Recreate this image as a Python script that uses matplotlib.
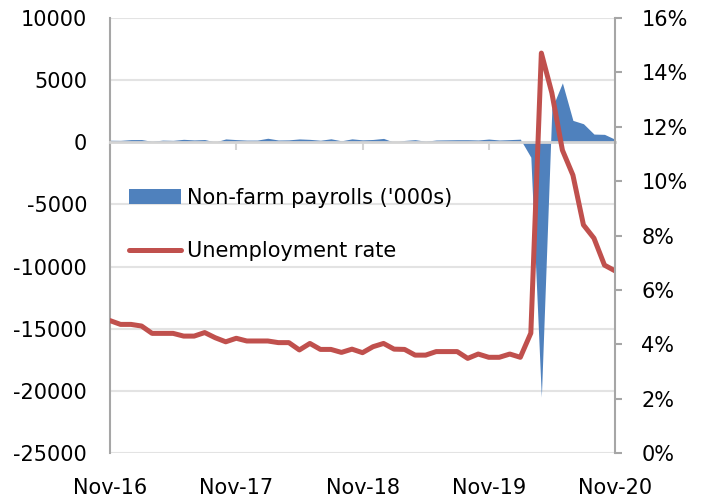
import numpy as np
import matplotlib.pyplot as plt
from matplotlib.ticker import FuncFormatter

# monthly, Nov-16 .. Nov-20
months = ["Nov-16", "Dec-16", "Jan-17", "Feb-17", "Mar-17", "Apr-17", "May-17",
          "Jun-17", "Jul-17", "Aug-17", "Sep-17", "Oct-17", "Nov-17", "Dec-17",
          "Jan-18", "Feb-18", "Mar-18", "Apr-18", "May-18", "Jun-18", "Jul-18",
          "Aug-18", "Sep-18", "Oct-18", "Nov-18", "Dec-18", "Jan-19", "Feb-19",
          "Mar-19", "Apr-19", "May-19", "Jun-19", "Jul-19", "Aug-19", "Sep-19",
          "Oct-19", "Nov-19", "Dec-19", "Jan-20", "Feb-20", "Mar-20", "Apr-20",
          "May-20", "Jun-20", "Jul-20", "Aug-20", "Sep-20", "Oct-20", "Nov-20"]

# change in non-farm payrolls, '000s
payrolls = [164, 155, 216, 219, 73, 175, 155, 239, 190, 221, 18, 271, 216, 175,
            176, 324, 182, 196, 270, 235, 164, 282, 119, 277, 196, 227, 312, 1,
            147, 210, 85, 182, 194, 207, 208, 185, 261, 184, 214, 251, -1200,
            -20500, 2725, 4781, 1761, 1493, 661, 638, 245]

# unemployment rate, %
unemployment = [4.87, 4.73, 4.73, 4.67, 4.40, 4.40, 4.40, 4.30, 4.30, 4.43,
                4.24, 4.09, 4.22, 4.12, 4.12, 4.12, 4.06, 4.06, 3.79, 4.03,
                3.81, 3.81, 3.70, 3.82, 3.69, 3.91, 4.03, 3.82, 3.81, 3.60,
                3.60, 3.73, 3.73, 3.73, 3.48, 3.64, 3.52, 3.52, 3.64, 3.52,
                4.41, 14.71, 13.24, 11.14, 10.22, 8.39, 7.90, 6.91, 6.70]

tick_labels = ["Nov-16", "Nov-17", "Nov-18", "Nov-19", "Nov-20"]

blue = "#4F81BD"
red = "#C0504D"
grey = "#a6a6a6"

plt.rcParams['font.family'] = ['DejaVu Sans']
plt.rcParams['font.size'] = 15
plt.rcParams['axes.unicode_minus'] = False

fig = plt.figure(figsize=(7.04, 5), dpi=100)
ax = fig.add_axes([110/704, 47/500, 505/704, 435/500])

x = np.arange(len(months))
ax.fill_between(x, payrolls, 0, color=blue, lw=0, label="Non-farm payrolls ('000s)")
ax.set_xlim(0, len(months) - 1)
ax.set_ylim(-25000, 10000)
ax.set_yticks(np.arange(-25000, 10001, 5000))
ax.yaxis.grid(True, color="#e3e3e3", lw=1.5)
ax.set_axisbelow(True)
ax.tick_params(axis='y', length=0, pad=16.5)

for s in ["top", "right"]:
    ax.spines[s].set_visible(False)
ax.spines["left"].set_color(grey)
ax.spines["left"].set_linewidth(1.5)
ax.spines["bottom"].set_position(("data", 0))
ax.spines["bottom"].set_color("#d4d4d4")
ax.spines["bottom"].set_linewidth(2)
ax.set_xticks(np.arange(0, len(months), 12))
ax.tick_params(axis='x', length=6, width=1.5, color="#d4d4d4", labelbottom=False)

# month labels sit below the plot, not on the zero line
sec = ax.secondary_xaxis('bottom')
sec.set_xticks(np.arange(0, len(months), 12), tick_labels)
sec.tick_params(length=0, pad=18)
sec.spines["bottom"].set_visible(False)

ax2 = ax.twinx()
ax2.plot(x, unemployment, color=red, lw=3.6, label="Unemployment rate",
         solid_capstyle="round", solid_joinstyle="round")
ax2.set_ylim(0, 16)
ax2.set_yticks(np.arange(0, 17, 2))
ax2.yaxis.set_major_formatter(FuncFormatter(lambda v, p: f"{v:.0f}%"))
ax2.tick_params(axis='y', length=5, width=1.5, color=grey, pad=14)
for s in ["top", "left", "bottom"]:
    ax2.spines[s].set_visible(False)
ax2.spines["right"].set_color(grey)
ax2.spines["right"].set_linewidth(1.5)

h1, l1 = ax.get_legend_handles_labels()
h2, l2 = ax2.get_legend_handles_labels()
ax2.legend(h1 + h2, l1 + l2, loc="upper left",
           bbox_to_anchor=(129/704, 312/500), bbox_transform=fig.transFigure,
           frameon=False, borderpad=0, borderaxespad=0,
           handlelength=2.5, handleheight=0.7, handletextpad=0.3,
           labelspacing=1.58)

fig.savefig("out.png", dpi=100)
